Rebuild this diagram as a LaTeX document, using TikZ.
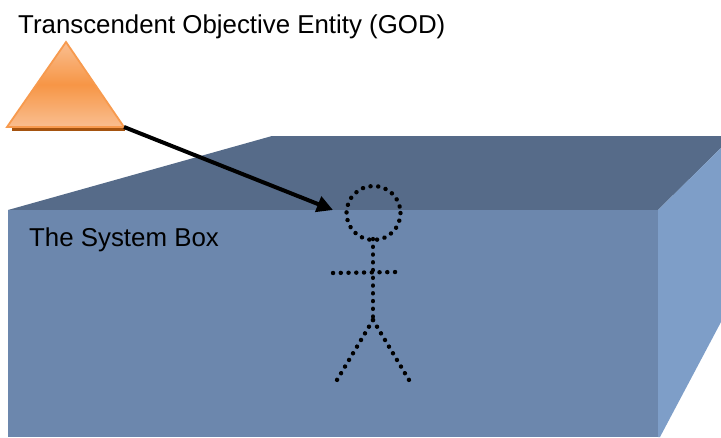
\documentclass[tikz,border=0pt]{standalone}
\usepackage{fontspec}
\setmainfont{Liberation Sans}
\usetikzlibrary{arrows.meta}
\definecolor{boxtop}{HTML}{566B89}
\definecolor{boxfront}{HTML}{6C87AD}
\definecolor{boxside}{HTML}{7E9EC8}
\definecolor{triedge}{HTML}{F79A4E}
\definecolor{trilight}{HTML}{F9BE90}
\definecolor{trimid}{HTML}{F79646}
\definecolor{tribase}{HTML}{A5530F}
\tikzset{
  x=1pt,y=-1pt,
  label text/.style={inner sep=0pt,anchor=base west,font=\fontsize{25.85}{30}\selectfont,text=black},
  stick/.style={line width=4.4pt,line cap=round,dash pattern=on 0.1pt off 7.65pt,draw=black},
  pointer/.style={line width=4pt,draw=black,-{Triangle[length=16pt,width=16pt]}},
}
\begin{document}
\begin{tikzpicture}
\useasboundingbox (0,0) rectangle (721,437);
% box
\fill[boxtop] (8,210) -- (272,136) -- (721,136) -- (721,148) -- (658,210) -- cycle;
\fill[boxfront] (8,210) rectangle (658,437);
\fill[boxside] (658,210) -- (721,148) -- (721,322) -- (660,437) -- (658,437) -- cycle;
% triangle
\fill[tribase] (12,126) rectangle (125,131);
\shade[top color=trilight,bottom color=trilight,middle color=trimid] (66,42) -- (124,127) -- (7,127) -- cycle;
\draw[triedge,line width=1.8pt,line join=miter] (66,42) -- (124,127) -- (7,127) -- cycle;
% labels
\node[label text] (title) at (18,33.5) {Transcendent Objective Entity (GOD)};
\node[label text] (boxlabel) at (29,246) {The System Box};
% figure
\coordinate (neck) at (373,239);
\coordinate (hip) at (373,320);
\coordinate (armL) at (333,273);
\coordinate (armR) at (397,272);
\coordinate (footL) at (337,380);
\coordinate (footR) at (409,380);
\draw[stick] (373.5,213) circle (27);
\draw[stick] (neck) -- (hip);
\draw[stick] (armL) -- (armR);
\draw[stick] (hip) -- (footL);
\draw[stick] (hip) -- (footR);
% arrow
\coordinate (triR) at (124,127);
\coordinate (headW) at (333,210);
\draw[pointer] (triR) -- (headW);
\end{tikzpicture}
\end{document}
